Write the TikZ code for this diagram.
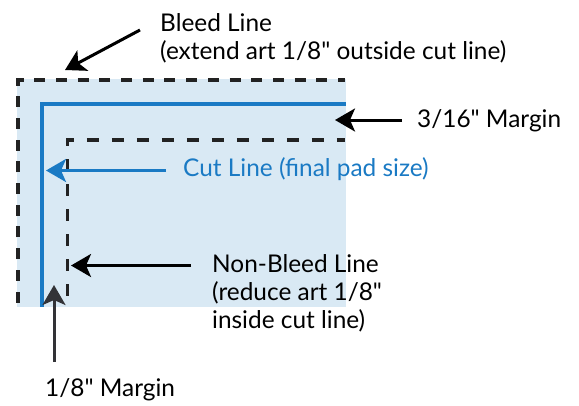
\documentclass[tikz,border=0pt]{standalone}
\usepackage{fontspec}
\setmainfont{Lato}
\usetikzlibrary{arrows.meta}
\definecolor{cutblue}{HTML}{1A7AC4}
\definecolor{padfill}{HTML}{D9E9F4}
\definecolor{dashgray}{HTML}{222222}
\newcommand{\qd}{\textquotedbl}
\begin{document}
\begin{tikzpicture}[x=1pt,y=-1pt,
  lbl/.style={font=\fontsize{24.4}{28}\selectfont, inner sep=0pt, anchor=base west, align=left},
  dashline/.style={draw=dashgray, line width=3.2pt},
  bleeddash/.style={dashline, dash pattern=on 11pt off 10.7pt, dash phase=17.2pt},
  nbdash/.style={dashline, dash pattern=on 11.7pt off 13.3pt, dash phase=13.85pt},
  arr/.style={line width=3pt, -{Stealth[length=20pt,width=23pt,inset=5pt]}},
]
\useasboundingbox (0,0) rectangle (579,405);
% pad
\fill[padfill] (16.5,79) rectangle (345.5,306.5);
% bleed line
\draw[bleeddash] (18,307) -- (18,80) -- (345,80);
% cut line
\draw[cutblue, line width=3.2pt] (42,306.5) -- (42,104) -- (345.5,104);
% non-bleed line
\draw[nbdash] (67.7,307) -- (67.7,140) -- (345,140);
% labels (base = baseline of last line)
\node[lbl] (bleed) at (160,59.7) {Bleed Line\\(extend art 1/8\qd{} outside cut line)};
\node[lbl] (margin316) at (417,127.3) {3/16\qd{} Margin};
\node[lbl, text=cutblue] (cut) at (183,176) {Cut Line (final pad size)};
\node[lbl] (nonbleed) at (212,328.3) {Non-Bleed Line\\(reduce art 1/8\qd\\inside cut line)};
\node[lbl] (margin18) at (45,396) {1/8\qd{} Margin};
% arrow endpoints
\coordinate (bleedtail) at (140,30);
\coordinate (bleedtip) at (65,70);
\coordinate (m316tail) at (402,120);
\coordinate (m316tip) at (335,120);
\coordinate (cuttail) at (166,170.5);
\coordinate (cuttip) at (46,170.5);
\coordinate (nbtail) at (191,265.5);
\coordinate (nbtip) at (71,265.5);
\coordinate (m18tail) at (54,362);
\coordinate (m18tip) at (54,285);
% arrows
\draw[arr] (bleedtail) -- (bleedtip);
\draw[arr] (m316tail) -- (m316tip);
\draw[arr, cutblue] (cuttail) -- (cuttip);
\draw[arr] (nbtail) -- (nbtip);
\draw[arr, draw=black!90!cyan] (m18tail) -- (m18tip);
\end{tikzpicture}
\end{document}
